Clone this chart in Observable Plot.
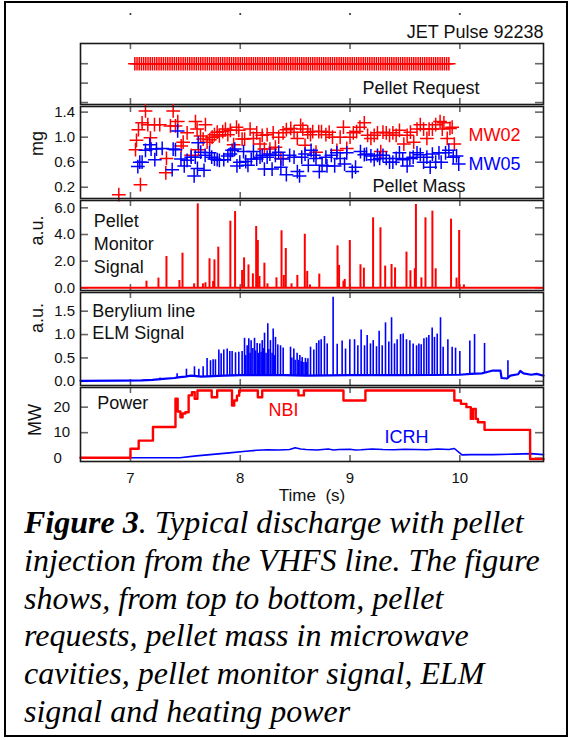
<!DOCTYPE html>
<html>
<head>
<meta charset="utf-8">
<script src="https://cdn.jsdelivr.net/npm/d3@7"></script>
<script src="https://cdn.jsdelivr.net/npm/@observablehq/plot@0.6"></script>
<style>
  html, body { margin: 0; padding: 0; background: #fff; }
  #fig { position: relative; width: 571px; height: 740px; overflow: hidden; background: #fff;
         font-family: "Liberation Sans", Arial, Helvetica, sans-serif; }
  #fig .box { position: absolute; left: 4px; top: 1px; width: 560px; height: 732px; border: 2px solid #000; }
  #caption { position: absolute; left: 24px; top: 504px; font-family: "Liberation Serif", "Times New Roman", serif;
             font-style: italic; font-size: 32px; line-height: 37.8px; white-space: nowrap; color: #000; }
</style>
</head>
<body>
<div id="fig">
  <div class="box"></div>
  <div id="caption"><b>Figure 3</b>. Typical discharge with pellet<br>injection from the VHFS line. The figure<br>shows, from top to bottom, pellet<br>requests, pellet mass in microwave<br>cavities, pellet monitor signal, ELM<br>signal and heating power</div>
</div>
<script>
// ---- time axis ----
const timeTicks = [7, 8, 9, 10];
const timeRange = [6.545, 10.762];

// ---- pellet requests (s) ----
const requestTimes = [
  7.04,7.06,7.08,7.10,7.12,7.14,7.16,7.18,7.20,7.22,7.24,7.26,7.28,7.30,7.32,7.34,7.36,7.38,7.40,7.42,7.44,7.46,7.48,7.50,
  7.52,7.54,7.56,7.58,7.60,7.62,7.64,7.66,7.68,7.70,7.72,7.74,7.76,7.78,7.80,7.82,7.84,7.86,7.88,7.90,7.92,7.94,7.96,7.98,
  8.00,8.02,8.04,8.06,8.08,8.10,8.12,8.14,8.16,8.18,8.20,8.22,8.24,8.26,8.28,8.30,8.32,8.34,8.36,8.38,8.40,8.42,8.44,8.46,8.48,
  8.50,8.52,8.54,8.56,8.58,8.60,8.62,8.64,8.66,8.68,8.70,8.72,8.74,8.76,8.78,8.80,8.82,8.84,8.86,8.88,8.90,8.92,8.94,8.96,8.98,
  9.00,9.02,9.04,9.06,9.08,9.10,9.12,9.14,9.16,9.18,9.20,9.22,9.24,9.26,9.28,9.30,9.32,9.34,9.36,9.38,9.40,9.42,9.44,9.46,9.48,
  9.50,9.52,9.54,9.56,9.58,9.60,9.62,9.64,9.66,9.68,9.70,9.72,9.74,9.76,9.78,9.80,9.82,9.84,9.86,9.88,9.90
];

// ---- pellet mass, microwave cavity MW02 [time s, mg] ----
const massMW02 = [
  [6.894,0.08],[7.046,0.80],[7.055,0.95],[7.073,1.12],[7.091,0.24],[7.106,1.23],[7.137,1.42],[7.158,1.20],[7.182,0.99],
  [7.219,1.20],[7.267,1.20],[7.322,0.43],[7.328,0.66],[7.364,1.18],[7.389,1.42],[7.41,1.18],[7.431,1.25],[7.462,0.86],
  [7.48,0.92],[7.516,1.07],[7.553,0.71],[7.592,1.25],[7.607,1.13],[7.62,0.80],[7.638,1.02],[7.662,0.97],[7.683,1.20],
  [7.698,0.92],[7.723,0.96],[7.744,1.00],[7.765,1.04],[7.79,1.08],[7.81,1.02],[7.84,1.09],[7.865,1.13],[7.887,1.04],
  [7.91,1.11],[7.94,0.88],[7.966,1.16],[7.987,1.11],[8.017,0.97],[8.04,0.97],[8.09,1.13],[8.12,0.98],[8.15,1.07],
  [8.18,0.89],[8.20,1.03],[8.22,0.81],[8.245,1.04],[8.27,0.81],[8.30,1.07],[8.32,0.84],[8.35,1.00],[8.37,0.66],
  [8.39,1.07],[8.42,1.12],[8.46,1.14],[8.49,1.08],[8.52,0.98],[8.55,1.19],[8.57,1.13],[8.59,0.87],[8.615,1.08],
  [8.64,1.04],[8.66,1.09],[8.69,0.76],[8.715,1.09],[8.74,1.09],[8.78,1.04],[8.81,1.08],[8.84,1.00],[8.88,0.79],
  [8.91,1.00],[8.94,1.16],[8.97,0.82],[9.00,1.00],[9.03,1.07],[9.06,1.09],[9.09,1.16],[9.13,1.23],[9.16,1.03],
  [9.19,0.98],[9.22,1.03],[9.25,1.07],[9.28,0.77],[9.30,1.08],[9.33,1.07],[9.36,1.03],[9.39,1.07],[9.42,1.03],
  [9.45,1.11],[9.49,0.89],[9.52,1.03],[9.55,1.08],[9.58,0.92],[9.61,1.13],[9.64,1.20],[9.67,1.13],[9.70,0.98],
  [9.72,1.13],[9.75,1.13],[9.78,1.20],[9.82,1.25],[9.84,1.13],[9.855,1.23],[9.885,0.98],[9.91,1.14],[9.93,1.16],[9.95,0.89]
];

// ---- pellet mass, microwave cavity MW05 [time s, mg] ----
const massMW05 = [
  [7.067,0.53],[7.085,0.60],[7.106,0.60],[7.137,0.79],[7.176,0.88],[7.188,0.81],[7.222,0.64],[7.237,0.81],[7.289,0.82],
  [7.38,0.48],[7.389,0.81],[7.41,0.80],[7.43,1.10],[7.46,0.65],[7.49,0.54],[7.516,0.63],[7.553,0.68],[7.58,0.38],
  [7.59,0.68],[7.61,0.50],[7.617,0.91],[7.64,0.76],[7.67,0.47],[7.68,0.71],[7.72,0.75],[7.74,0.68],[7.765,0.65],
  [7.79,0.64],[7.81,0.63],[7.85,0.64],[7.887,0.70],[7.91,0.73],[7.926,0.79],[7.95,0.81],[7.97,0.54],[7.996,0.60],
  [8.03,0.77],[8.05,0.61],[8.07,0.55],[8.10,0.65],[8.12,0.77],[8.15,0.65],[8.18,0.68],[8.20,0.71],[8.22,0.49],
  [8.245,0.68],[8.27,0.73],[8.29,0.49],[8.32,0.71],[8.35,0.76],[8.37,0.52],[8.39,0.65],[8.42,0.40],[8.45,0.71],
  [8.49,0.68],[8.52,0.45],[8.54,0.38],[8.56,0.68],[8.59,0.73],[8.62,0.55],[8.645,0.79],[8.67,0.71],[8.69,0.66],
  [8.72,0.45],[8.745,0.55],[8.78,0.68],[8.79,0.54],[8.83,0.71],[8.86,0.54],[8.88,0.75],[8.91,0.66],[8.95,0.57],
  [8.97,0.75],[9.02,0.45],[9.05,0.52],[9.095,0.77],[9.13,0.72],[9.15,0.73],[9.19,0.70],[9.22,0.64],[9.25,0.71],
  [9.27,0.66],[9.30,0.71],[9.33,0.66],[9.36,0.60],[9.39,0.60],[9.42,0.66],[9.45,0.75],[9.48,0.64],[9.52,0.54],
  [9.545,0.66],[9.575,0.68],[9.61,0.75],[9.64,0.72],[9.67,0.60],[9.70,0.68],[9.73,0.52],[9.75,0.73],[9.78,0.60],
  [9.81,0.75],[9.83,0.60],[9.87,0.75],[9.90,0.79],[9.94,0.68],[9.97,0.70],[9.99,0.57]
];

// ---- pellet monitor signal peaks [time s, a.u.] ----
const monitorPeaks = [
  [7.146,0.5],[7.255,0.73],[7.328,2.35],[7.446,0.55],[7.474,2.6],[7.58,0.3],[7.613,6.3],[7.66,0.3],[7.683,0.38],
  [7.72,2.18],[7.753,0.48],[7.765,2.1],[7.80,3.05],[7.91,5.0],[7.953,5.72],[8.017,1.3],[8.035,2.25],[8.075,1.72],
  [8.115,1.05],[8.145,4.6],[8.16,3.55],[8.175,0.85],[8.22,1.85],[8.248,0.3],[8.33,0.75],[8.376,4.28],[8.397,0.93],
  [8.415,2.95],[8.467,0.3],[8.52,0.93],[8.588,4.02],[8.61,1.23],[8.635,0.22],[8.72,1.03],[8.886,3.15],[8.90,1.68],
  [8.94,0.5],[8.952,0.63],[8.998,3.55],[9.095,1.73],[9.126,1.48],[9.21,5.25],[9.277,4.5],[9.32,1.63],[9.378,1.75],
  [9.41,1.5],[9.514,2.68],[9.55,1.28],[9.59,1.43],[9.60,6.25],[9.65,0.75],[9.687,5.25],[9.75,5.75],[9.78,1.43],
  [9.92,5.15],[9.97,0.73],[9.994,4.3],[10.037,0.22]
];

// ---- beryllium line: background level [time s, a.u.] ----
const elmBackground = [
  [6.545,0.01],[6.9,0.015],[7.1,0.02],[7.2,0.03],[7.3,0.05],[7.4,0.07],[7.45,0.09],[7.5,0.10],[7.55,0.12],[7.65,0.10],
  [7.75,0.11],[7.85,0.12],[8.0,0.13],[8.4,0.13],[8.6,0.12],[9.0,0.13],[9.5,0.13],[10.0,0.14],[10.1,0.16],[10.2,0.17],
  [10.25,0.2],[10.3,0.23],[10.37,0.23],[10.38,0.07],[10.43,0.06],[10.46,0.12],[10.53,0.15],[10.55,0.22],[10.58,0.17],
  [10.65,0.14],[10.70,0.16],[10.762,0.12]
];

// ---- beryllium line: ELM bursts [time s, peak a.u.] ----
const elmPeaks = [
  [7.27,0.07],[7.33,0.06],[7.425,0.16],[7.51,0.26],[7.583,0.31],[7.623,0.26],[7.662,0.31],[7.698,0.49],[7.729,0.44],
  [7.753,0.46],[7.774,0.46],[7.805,0.67],[7.826,0.59],[7.85,0.67],[7.881,0.69],[7.905,0.64],[7.926,0.64],[7.957,0.61],
  [7.987,0.62],[8.017,0.64],[8.039,0.92],[8.05,0.55],[8.063,0.76],[8.078,0.91],[8.09,0.6],[8.099,0.87],[8.115,0.7],
  [8.13,0.92],[8.14,0.65],[8.154,0.81],[8.165,0.6],[8.178,0.80],[8.19,0.62],[8.20,0.87],[8.21,0.7],[8.221,1.03],
  [8.235,0.6],[8.251,1.23],[8.26,0.68],[8.275,0.87],[8.29,0.6],[8.30,1.12],[8.31,0.55],[8.321,0.94],[8.342,0.78],
  [8.367,0.76],[8.391,0.71],[8.458,0.73],[8.47,0.5],[8.488,0.69],[8.50,0.45],[8.518,0.60],[8.53,0.45],[8.543,0.55],
  [8.555,0.42],[8.564,0.51],[8.58,0.4],[8.594,0.49],[8.605,0.4],[8.616,0.48],[8.64,0.73],[8.67,0.67],[8.695,0.81],
  [8.716,0.87],[8.737,0.89],[8.767,0.96],[8.792,0.80],[8.846,1.80],[8.883,0.79],[8.928,0.86],[8.959,0.69],[8.998,0.89],
  [9.041,0.89],[9.071,0.76],[9.101,1.10],[9.132,0.76],[9.156,0.98],[9.186,0.80],[9.211,0.87],[9.241,0.74],[9.265,1.07],
  [9.293,0.76],[9.323,1.25],[9.353,0.84],[9.378,1.36],[9.405,0.80],[9.429,0.89],[9.46,1.00],[9.484,1.01],[9.514,0.89],
  [9.545,0.87],[9.575,0.80],[9.606,0.76],[9.627,0.80],[9.648,0.78],[9.673,0.91],[9.697,0.93],[9.718,0.98],[9.748,1.14],
  [9.769,0.94],[9.794,1.01],[9.824,1.36],[9.848,0.73],[9.891,0.89],[9.93,0.73],[9.961,0.71],[10.0,0.64],[10.091,0.86],
  [10.134,1.00],[10.225,0.81],[10.438,0.44]
];

// ---- heating power: NBI steps [time s, MW] ----
const powerNBI = [
  [6.545,0.2],[7.00,3.7],[7.075,6.9],[7.205,12.2],[7.41,23.3],[7.43,18.3],[7.455,16.0],[7.475,17.5],[7.50,18.0],
  [7.53,24.6],[7.56,25.9],[7.585,23.3],[7.61,26.5],[7.74,23.9],[7.79,26.5],[7.925,20.6],[7.945,22.6],[7.97,24.5],
  [7.99,26.5],[8.16,23.9],[8.20,26.5],[8.53,24.6],[8.58,26.5],[8.94,22.6],[9.14,26.5],[9.95,22.6],[10.01,21.3],
  [10.06,20.0],[10.10,15.4],[10.12,19.3],[10.145,15.4],[10.165,14.1],[10.225,11.1],[10.64,-0.3],[10.762,-0.3]
];

// ---- heating power: ICRH [time s, MW] ----
const powerICRH = [
  [6.545,0.2],[7.45,0.2],[7.6,0.9],[7.75,1.5],[7.9,2.1],[8.05,2.7],[8.15,3.1],[8.25,3.3],[8.35,3.2],[8.45,3.4],
  [8.5,4.1],[8.55,3.6],[8.6,3.4],[8.7,3.2],[8.8,3.6],[8.85,3.2],[8.9,3.4],[9.0,3.5],[9.05,3.2],[9.1,3.3],[9.2,3.6],
  [9.3,3.4],[9.4,3.3],[9.5,3.5],[9.6,3.4],[9.7,3.3],[9.8,3.6],[9.9,3.4],[9.95,3.8],[10.02,1.3],[10.1,1.4],
  [10.3,1.4],[10.5,1.6],[10.65,1.8],[10.762,1.4]
];

// ---- drawing ----
const fig = document.getElementById("fig");
const FONT = '"Liberation Sans", Arial, Helvetica, sans-serif';
const ML = 80, MR = 28, W = 571, innerW = W - ML - MR;
const tickGray = "#666";
const RED = "#ff0000", BLUE = "#0000ff";

// inward ticks on all four sides of a panel frame
function frameTicks(yTicks, innerH) {
  const common = {stroke: tickGray, strokeWidth: 1.6};
  return [
    Plot.tickY(yTicks, {y: d => d, insetRight: innerW - 8, ...common}),
    Plot.tickY(yTicks, {y: d => d, insetLeft: innerW - 8, ...common}),
    Plot.tickX(timeTicks, {x: d => d, insetBottom: innerH - 6, ...common}),
    Plot.tickX(timeTicks, {x: d => d, insetTop: innerH - 6, ...common})
  ];
}

function label(text, dx, dy, opts = {}) {
  return Plot.text([text], {text: d => d, frameAnchor: "top-left", dx, dy, textAnchor: "start",
    lineAnchor: "middle", fontSize: 18, fill: "#111", ...opts});
}

function yTitle(text, dx, dy) {
  return Plot.text([text], {text: d => d, frameAnchor: "top-left", dx, dy, rotate: -90,
    textAnchor: "middle", lineAnchor: "middle", fontSize: 18, fill: "#111"});
}

function panel({top, frameTop, frameBottom, marginBottom = 1, yDomain, yTicks, marks}) {
  const marginTop = frameTop - top;
  const innerH = frameBottom - frameTop;
  const svg = Plot.plot({
    width: W, height: innerH + marginTop + marginBottom,
    marginLeft: ML, marginRight: MR, marginTop, marginBottom,
    style: {background: "transparent", overflow: "visible", fontFamily: FONT},
    x: {domain: timeRange, axis: null},
    y: {domain: yDomain, axis: null},
    marks: [...frameTicks(yTicks, innerH), ...marks, Plot.frame({stroke: "#1a1a1a", strokeWidth: 1.6})]
  });
  svg.style.position = "absolute";
  svg.style.left = "0px";
  svg.style.top = top + "px";
  fig.appendChild(svg);
}

const yLabels = (ticks, fmt, extra = {}) =>
  Plot.axisY(ticks, {tickSize: 0, tickPadding: 5.5, tickFormat: fmt, fontSize: 15, fill: "#111", label: null, ...extra});

// 1: pellet requests
panel({
  top: 0, frameTop: 43, frameBottom: 104, yDomain: [-0.05, 1.52], yTicks: [0, 0.5, 1],
  marks: [
    Plot.dot(timeTicks, {x: d => d, frameAnchor: "top", dy: -29.5, r: 1.1, fill: "#333"}),
    Plot.text(["JET Pulse 92238"], {text: d => d, frameAnchor: "top-right", dy: -11.5, textAnchor: "end",
      lineAnchor: "middle", fontSize: 18, fill: "#111"}),
    Plot.dot(requestTimes, {x: d => d, y: () => 1, symbol: "plus", r: 4.4, stroke: RED, strokeWidth: 1.5}),
    label("Pellet Request", 282, 45)
  ]
});

// 2: pellet mass
panel({
  top: 105, frameTop: 106, frameBottom: 198, yDomain: [0.02, 1.49], yTicks: [0.2, 0.6, 1.0, 1.4],
  marks: [
    yLabels([0.2, 0.6, 1.0, 1.4], d3.format(".1f")),
    yTitle("mg", -43.3, 37),
    Plot.dot(massMW02, {x: d => d[0], y: d => d[1], symbol: "plus", r: 4.5, stroke: RED, strokeWidth: 1.5}),
    Plot.dot(massMW05, {x: d => d[0], y: d => d[1], symbol: "plus", r: 4.5, stroke: BLUE, strokeWidth: 1.5}),
    label("MW02", 388, 29, {fill: RED}),
    label("MW05", 388, 58, {fill: BLUE}),
    label("Pellet Mass", 292, 80)
  ]
});

// 3: pellet monitor
panel({
  top: 199, frameTop: 200, frameBottom: 290, yDomain: [-0.2, 6.55], yTicks: [0, 2, 4, 6],
  marks: [
    yLabels([0, 2, 4, 6], d3.format(".1f")),
    yTitle("a.u.", -43, 30),
    Plot.ruleY([0], {stroke: RED, strokeWidth: 2}),
    Plot.ruleX(monitorPeaks, {x: d => d[0], y1: 0, y2: d => d[1], stroke: RED, strokeWidth: 2}),
    label("Pellet\nMonitor\nSignal", 13.3, 42, {lineHeight: 1.28})
  ]
});

// 4: ELM signal
const bgAt = (() => {
  const bis = d3.bisector(d => d[0]).left;
  return t => {
    const i = Math.max(1, Math.min(elmBackground.length - 1, bis(elmBackground, t)));
    const [t0, v0] = elmBackground[i - 1], [t1, v1] = elmBackground[i];
    return v0 + (v1 - v0) * (t - t0) / (t1 - t0);
  };
})();
panel({
  top: 291, frameTop: 292, frameBottom: 385, yDomain: [-0.09, 1.90], yTicks: [0, 0.5, 1.0, 1.5],
  marks: [
    yLabels([0, 0.5, 1.0, 1.5], d3.format(".1f")),
    yTitle("a.u.", -43.5, 25.5),
    Plot.ruleX(elmPeaks, {x: d => d[0], y1: d => bgAt(d[0]), y2: d => d[1], stroke: BLUE, strokeWidth: 1.6}),
    Plot.line(elmBackground, {x: d => d[0], y: d => d[1], stroke: BLUE, strokeWidth: 2.2}),
    label("Berylium line\nELM Signal", 11.7, 28.3, {lineHeight: 1.26})
  ]
});

// 5: heating power
panel({
  top: 386, frameTop: 387, frameBottom: 461, marginBottom: 45, yDomain: [-1.29, 27.7], yTicks: [0, 10, 20],
  marks: [
    yLabels([0, 10, 20], d3.format("d"), {textAnchor: "start", tickPadding: 27}),
    yTitle("MW", -45, 32.5),
    Plot.axisX(timeTicks, {tickSize: 0, tickPadding: 10.5, fontSize: 15, fill: "#111", label: null}),
    Plot.text(["Time  (s)"], {text: d => d, frameAnchor: "bottom", dy: 34, lineAnchor: "middle",
      fontSize: 17, fill: "#111"}),
    Plot.line(powerICRH, {x: d => d[0], y: d => d[1], stroke: BLUE, strokeWidth: 1.6}),
    Plot.line(powerNBI, {x: d => d[0], y: d => d[1], curve: "step-after", stroke: RED, strokeWidth: 2.4}),
    label("Power", 16.7, 16),
    label("NBI", 188, 23, {fill: RED}),
    label("ICRH", 304, 50, {fill: BLUE})
  ]
});
</script>
</body>
</html>
